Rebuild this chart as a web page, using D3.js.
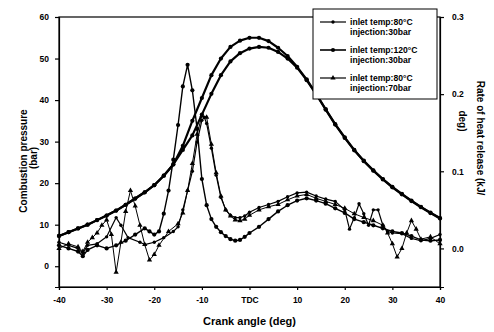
<!DOCTYPE html>
<html>
<head>
<meta charset="utf-8">
<script src="https://cdn.jsdelivr.net/npm/d3@7"></script>
<style>
  body { margin: 0; background: #fff; }
  svg { font-family: "Liberation Sans", Arial, sans-serif; }
</style>
</head>
<body>
<div id="chart"></div>
<script>
// crank angle grid for the pressure traces
const crank = d3.range(-40, 41, 2);

// combustion pressure (bar), left axis
const pressure120 = [7.3, 8.2, 9.1, 10.0, 11.1, 12.2, 13.4, 14.8, 16.3, 17.8, 19.5, 21.8, 24.5, 29.0, 35.0, 40.5,
  46.0, 50.0, 52.8, 54.3, 55.0, 55.0, 54.2, 52.6, 50.6, 48.0, 45.0, 41.5, 37.8, 34.2, 31.0,
  28.0, 25.4, 23.1, 21.0, 19.1, 17.4, 15.8, 14.3, 12.9, 11.6];
const pressure80 = [7.3, 8.2, 9.1, 10.0, 11.1, 12.2, 13.4, 14.8, 16.3, 17.8, 19.5, 21.8, 24.5, 28.0, 31.5, 36.5,
  41.5, 46.0, 49.3, 51.3, 52.4, 52.8, 52.6, 51.6, 50.0, 47.8, 44.8, 41.4, 37.7, 34.1, 30.9,
  27.9, 25.3, 23.0, 20.9, 19.0, 17.3, 15.7, 14.2, 12.8, 11.5];

// rate of heat release (kJ/deg), right axis: [crank angle, value]
const hr80_30 = [[-40,0.008],[-38,0.004],[-36,0.0],[-35,-0.006],[-34,0.004],[-32,0.006],[-30,0.015],[-28,0.04],
  [-27,0.03],[-25.5,0.014],[-23,0.008],[-22,0.005],[-20,0.008],[-18,0.014],[-16,0.022],[-15,0.028],[-14,0.05],
  [-13,0.075],[-12,0.1],[-11,0.138],[-10,0.166],[-9.5,0.17],[-9,0.162],[-8,0.13],[-7,0.095],[-6,0.066],[-5,0.05],
  [-4,0.043],[-3,0.04],[-2,0.04],[-1,0.042],[0,0.047],[2,0.053],[4,0.057],[6,0.061],[8,0.067],[10,0.072],
  [12,0.073],[14,0.068],[16,0.064],[18,0.061],[20,0.05],[21,0.025],[22,0.04],[23,0.058],[24,0.045],[25,0.03],
  [26,0.05],[27,0.05],[28,0.03],[29,0.022],[30,0.02],[32,0.019],[34,0.013],[36,0.01],[38,0.013],[40,0.018]];
const hr120_30 = [[-40,0.004],[-38,0.0],[-36,-0.004],[-35,-0.01],[-34,-0.002],[-32,0.004],[-30,0.0],[-28,0.004],
  [-26,0.01],[-24,0.018],[-22,0.026],[-21,0.022],[-20,0.018],[-19,0.022],[-18,0.045],[-17,0.075],[-16,0.115],
  [-15,0.16],[-14,0.21],[-13,0.238],[-12,0.205],[-11,0.155],[-10,0.09],[-9,0.056],[-8,0.038],[-7,0.028],
  [-6,0.021],[-5,0.016],[-4,0.012],[-3,0.01],[-2,0.011],[-1,0.015],[0,0.02],[2,0.028],[4,0.038],[6,0.048],
  [8,0.056],[10,0.062],[12,0.065],[14,0.062],[16,0.058],[18,0.052],[20,0.046],[22,0.038],[24,0.034],[26,0.03],
  [28,0.026],[30,0.022],[32,0.02],[34,0.016],[36,0.011],[38,0.01],[40,0.011]];
const hr80_70 = [[-40,0.0],[-38,0.006],[-36,0.002],[-35,-0.004],[-34,0.008],[-33,0.014],[-32,0.02],[-31,0.03],
  [-30,0.037],[-29,0.018],[-28,-0.031],[-27,0.008],[-26,0.048],[-25,0.075],[-24,0.055],[-23,0.03],[-22,0.005],
  [-21,-0.015],[-20,-0.008],[-19,0.004],[-17,0.022],[-15,0.032],[-14,0.046],[-13,0.075],[-12,0.11],[-11,0.148],
  [-10,0.172],[-9,0.17],[-8,0.135],[-7,0.098],[-6,0.068],[-5,0.05],[-4,0.042],[-3,0.037],[-2,0.036],[-1,0.038],
  [0,0.043],[2,0.05],[4,0.054],[6,0.057],[8,0.063],[10,0.068],[12,0.07],[14,0.065],[16,0.061],[18,0.057],
  [20,0.052],[22,0.045],[24,0.04],[26,0.036],[28,0.03],[29,0.02],[30,0.006],[31,-0.011],[32,0.0],[33,0.02],
  [34,0.036],[35,0.025],[36,0.012],[38,0.015],[40,0.006]];

const xTicks = [-40, -30, -20, -10, 0, 10, 20, 30, 40];
const leftTicks = [0, 10, 20, 30, 40, 50, 60];
const rightTicks = [0.0, 0.1, 0.2, 0.3];
const legendLabels = [
  ['inlet temp:80°C', 'injection:30bar'],
  ['inlet temp:120°C', 'injection:30bar'],
  ['inlet temp:80°C', 'injection:70bar']
];

const W = 494, H = 332;
const margin = { top: 17, right: 54, bottom: 45, left: 59 };

const svg = d3.select('#chart').append('svg')
  .attr('width', W).attr('height', H);

const x = d3.scaleLinear().domain([-40, 40]).range([margin.left, W - margin.right]);
const yL = d3.scaleLinear().domain([-5, 60]).range([H - margin.bottom, margin.top]);
const yR = d3.scaleLinear().domain([-0.05, 0.3]).range([H - margin.bottom, margin.top]);

// frame
svg.append('rect')
  .attr('x', x(-40)).attr('y', yL(60))
  .attr('width', x(40) - x(-40)).attr('height', yL(-5) - yL(60))
  .attr('fill', 'none').attr('stroke', '#000').attr('stroke-width', 1.2);

// axes
const styleAxis = g => {
  g.select('.domain').attr('stroke-width', 1.2);
  g.selectAll('.tick line').attr('stroke-width', 1.2);
  g.selectAll('text').attr('font-size', 8.5).attr('font-weight', 'bold').attr('fill', '#000');
};

svg.append('g')
  .attr('transform', `translate(0,${yL(-5)})`)
  .call(d3.axisBottom(x).tickValues(xTicks).tickSize(3).tickPadding(7)
    .tickFormat(d => d === 0 ? 'TDC' : d))
  .call(styleAxis);

svg.append('g')
  .attr('transform', `translate(${x(-40)},0)`)
  .call(d3.axisLeft(yL).tickValues(leftTicks).tickSize(4).tickPadding(6))
  .call(styleAxis);

svg.append('g')
  .attr('transform', `translate(${x(40)},0)`)
  .call(d3.axisRight(yR).tickValues(rightTicks).tickSize(4).tickPadding(8).tickFormat(d3.format('.1f')))
  .call(styleAxis);

// axis titles
svg.append('text')
  .attr('x', x(0)).attr('y', 325)
  .attr('text-anchor', 'middle').attr('font-size', 11).attr('font-weight', 'bold')
  .text('Crank angle (deg)');

svg.append('text')
  .attr('transform', 'translate(27,161) rotate(-90)')
  .attr('text-anchor', 'middle').attr('font-size', 10).attr('font-weight', 'bold')
  .text('Combustion pressure');
svg.append('text')
  .attr('transform', 'translate(37,158) rotate(-90)')
  .attr('text-anchor', 'middle').attr('font-size', 10).attr('font-weight', 'bold')
  .text('(bar)');

svg.append('text')
  .attr('transform', 'translate(477,138) rotate(90)')
  .attr('text-anchor', 'middle').attr('font-size', 10).attr('font-weight', 'bold')
  .text('Rate of heat release (kJ/');
svg.append('text')
  .attr('transform', 'translate(459,121) rotate(90)')
  .attr('text-anchor', 'middle').attr('font-size', 10).attr('font-weight', 'bold')
  .text('deg)');

// series
const circleSmall = d3.symbol().type(d3.symbolCircle).size(9);
const circleBig = d3.symbol().type(d3.symbolCircle).size(14);
const triangle = d3.symbol().type(d3.symbolTriangle).size(12);

const drawSeries = (pts, yScale, width, sym) => {
  const line = d3.line().x(d => x(d[0])).y(d => yScale(d[1]));
  svg.append('path').datum(pts)
    .attr('d', line).attr('fill', 'none').attr('stroke', '#000')
    .attr('stroke-width', width).attr('stroke-linejoin', 'round');
  svg.append('g').selectAll('path').data(pts).join('path')
    .attr('transform', d => `translate(${x(d[0])},${yScale(d[1])})`)
    .attr('d', sym).attr('fill', '#000');
};

drawSeries(crank.map((c, i) => [c, pressure80[i]]), yL, 2.2, circleBig);
drawSeries(crank.map((c, i) => [c, pressure120[i]]), yL, 2.2, circleBig);
drawSeries(hr80_30, yR, 1.2, circleSmall);
drawSeries(hr120_30, yR, 1.4, circleBig);
drawSeries(hr80_70, yR, 1.0, triangle);

// legend
const lg = svg.append('g');
lg.append('rect')
  .attr('x', 313).attr('y', 9).attr('width', 124).attr('height', 90)
  .attr('fill', '#fff').attr('stroke', '#000').attr('stroke-width', 1);
const syms = [circleSmall, circleBig, triangle];
const widths = [1.2, 1.6, 1.2];
legendLabels.forEach((lab, i) => {
  const yy = 22 + i * 28;
  lg.append('line').attr('x1', 320).attr('x2', 346).attr('y1', yy).attr('y2', yy)
    .attr('stroke', '#000').attr('stroke-width', widths[i]);
  lg.append('path').attr('transform', `translate(333,${yy})`).attr('d', syms[i]).attr('fill', '#000');
  lg.append('text').attr('x', 350).attr('y', yy + 3)
    .attr('font-size', 8.6).attr('font-weight', 'bold').text(lab[0]);
  lg.append('text').attr('x', 350).attr('y', yy + 13)
    .attr('font-size', 8.6).attr('font-weight', 'bold').text(lab[1]);
});
</script>
</body>
</html>
